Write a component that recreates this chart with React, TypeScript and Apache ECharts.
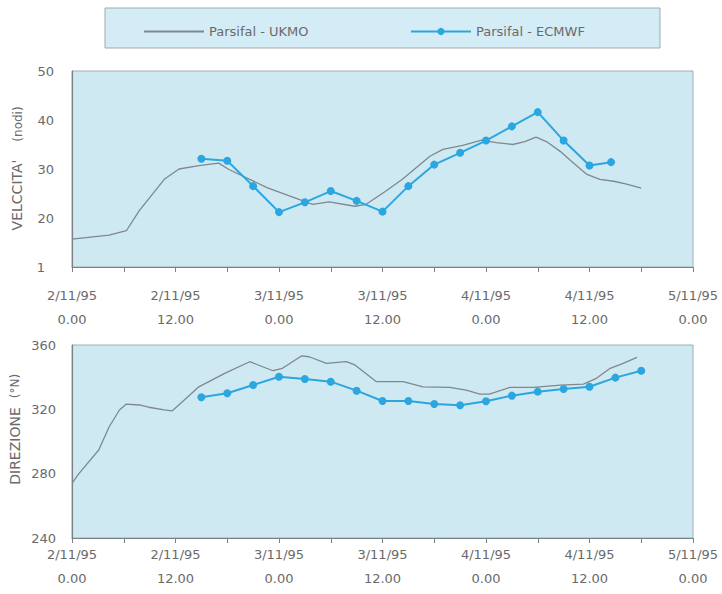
import React, { useEffect, useRef } from 'react';
import * as echarts from 'echarts';

// ---------- data ----------
const ukmoSpeedHours = [0, 4.3, 6.3, 7.8, 10.7, 12.4, 14.7, 17, 18.2, 20.6, 22.6, 25.2, 27.9, 29.8, 32.8, 34.1, 36.4, 38.3, 41.5, 43, 45.3, 47.5, 49.2, 51.1, 52.5, 53.8, 55, 56.6, 57.9, 59.7, 61.2, 62.8, 64.3, 66];
const ukmoSpeed = [15.7, 16.5, 17.4, 21.5, 27.9, 30, 30.7, 31.2, 29.9, 27.9, 26.2, 24.5, 22.8, 23.3, 22.4, 22.8, 25.5, 27.9, 32.6, 34, 34.8, 35.9, 35.4, 35, 35.6, 36.5, 35.6, 33.6, 31.6, 28.9, 27.9, 27.5, 26.9, 26.1];

const ecmwfSpeedHours = [15, 18, 21, 24, 27, 30, 33, 36, 39, 42, 45, 48, 51, 54, 57, 60, 62.5];
const ecmwfSpeed = [32.1, 31.7, 26.5, 21.2, 23.2, 25.5, 23.5, 21.3, 26.5, 30.9, 33.3, 35.8, 38.7, 41.6, 35.8, 30.7, 31.4];

const ukmoDirHours = [0, 0.8, 3.1, 4.3, 5.5, 6.3, 7.8, 8.9, 10.7, 11.6, 12.8, 14.7, 17.7, 20.6, 23.3, 24.4, 26.6, 27.5, 29.5, 31.8, 32.8, 35.3, 38.4, 40.7, 43.8, 45.7, 47.3, 48.4, 50.8, 53.5, 56.6, 59.3, 60.8, 62.4, 63.9, 65.5];
const ukmoDir = [274, 280, 294.7, 309, 319.6, 323.3, 322.7, 321.3, 319.6, 319, 324.7, 334, 342.4, 349.6, 344, 345.5, 353.2, 352.7, 348.6, 349.6, 347.6, 337.2, 337.2, 334, 333.7, 332, 329.5, 329.5, 333.7, 333.7, 335.1, 335.7, 339.3, 345.5, 348.6, 352.3];

const ecmwfDirHours = [15, 18, 21, 24, 27, 30, 33, 36, 39, 42, 45, 48, 51, 54, 57, 60, 63, 66];
const ecmwfDir = [327.5, 330, 335.1, 340.3, 338.9, 337.2, 331.6, 325.2, 325.2, 323.3, 322.5, 325, 328.5, 331, 332.6, 334, 339.7, 344];

const xTickLabels = ['2/11/95\n0.00', '2/11/95\n12.00', '3/11/95\n0.00', '3/11/95\n12.00', '4/11/95\n0.00', '4/11/95\n12.00', '5/11/95\n0.00'];
const seriesNames = ['Parsifal - UKMO', 'Parsifal - ECMWF'];

// ---------- style ----------
const FONT = 'DejaVu Sans';
const TXT = '#6a6a6a';
const PLOT_BG = '#cfe9f3';
const GRAY = '#7f888b';
const BLUE = '#2ba6de';

const pairs = (h: number[], v: number[]) => h.map((x, i) => [x, v[i]]);

function xAxisFor(gridIndex: number, margin: number) {
  return {
    type: 'value',
    gridIndex,
    min: 0,
    max: 72,
    interval: 6,
    splitLine: { show: false },
    axisLine: { lineStyle: { color: '#7a8285', width: 1.2 } },
    axisTick: { length: 5, lineStyle: { color: '#7a8285' } },
    axisLabel: {
      margin,
      showMinLabel: true,
      showMaxLabel: true,
      color: TXT,
      fontFamily: FONT,
      fontSize: 13,
      lineHeight: 24,
      formatter: (v: number) => (v % 12 === 0 ? xTickLabels[v / 12] : ''),
    },
  };
}

const legendText = { color: TXT, fontFamily: FONT, fontSize: 13 };

const option = {
  animation: false,
  backgroundColor: '#ffffff',
  textStyle: { fontFamily: FONT },
  legend: [
    {
      data: [seriesNames[0]],
      left: 138,
      top: 20,
      itemWidth: 60,
      itemHeight: 9,
      itemStyle: { color: 'rgba(0,0,0,0)', borderWidth: 0, opacity: 0 },
      textStyle: legendText,
    },
    {
      data: [seriesNames[1]],
      left: 405,
      top: 20,
      itemWidth: 60,
      itemHeight: 9,
      textStyle: legendText,
    },
  ],
  graphic: [
    {
      type: 'rect',
      z: -10,
      shape: { x: 105, y: 8, width: 555, height: 40 },
      style: { fill: '#d4ecf5', stroke: '#9fa9ad', lineWidth: 1 },
    },
    {
      type: 'text',
      x: 17,
      y: 195,
      rotation: Math.PI / 2,
      style: { text: "VELCCITA'", fill: TXT, font: `14px "${FONT}"`, textAlign: 'center', textVerticalAlign: 'middle' },
    },
    {
      type: 'text',
      x: 18,
      y: 124,
      rotation: Math.PI / 2,
      style: { text: '(nodi)', fill: TXT, font: `12px "${FONT}"`, textAlign: 'center', textVerticalAlign: 'middle' },
    },
    {
      type: 'text',
      x: 15,
      y: 446,
      rotation: Math.PI / 2,
      style: { text: 'DIREZIONE', fill: TXT, font: `14px "${FONT}"`, textAlign: 'center', textVerticalAlign: 'middle' },
    },
    {
      type: 'text',
      x: 15,
      y: 386,
      rotation: Math.PI / 2,
      style: { text: '(°N)', fill: TXT, font: `12px "${FONT}"`, textAlign: 'center', textVerticalAlign: 'middle' },
    },
  ],
  grid: [
    { left: 72, top: 71, width: 621, height: 196, show: true, backgroundColor: PLOT_BG, borderColor: '#a3adb1', borderWidth: 1 },
    { left: 72, top: 345, width: 621, height: 193, show: true, backgroundColor: PLOT_BG, borderColor: '#a3adb1', borderWidth: 1 },
  ],
  xAxis: [xAxisFor(0, 16), xAxisFor(1, 4)],
  yAxis: [
    {
      type: 'value',
      gridIndex: 0,
      min: 10,
      max: 50,
      interval: 10,
      splitLine: { show: false },
      axisLine: { show: true, lineStyle: { color: '#7a8285', width: 1.2 } },
      axisTick: { show: false },
      axisLabel: {
        margin: 18,
        color: TXT,
        fontFamily: FONT,
        fontSize: 13,
        formatter: (v: number) => (v === 10 ? '{p|1}' : String(v)),
        rich: { p: { color: TXT, fontFamily: FONT, fontSize: 13, padding: [0, 9, 0, 0] } },
      },
    },
    {
      type: 'value',
      gridIndex: 1,
      min: 240,
      max: 360,
      interval: 40,
      splitLine: { show: false },
      axisLine: { show: true, lineStyle: { color: '#7a8285', width: 1.2 } },
      axisTick: { show: false },
      axisLabel: { margin: 16, color: TXT, fontFamily: FONT, fontSize: 13 },
    },
  ],
  series: [
    {
      name: seriesNames[0],
      type: 'line',
      xAxisIndex: 0,
      yAxisIndex: 0,
      symbol: 'none',
      lineStyle: { color: GRAY, width: 1.3 },
      itemStyle: { color: GRAY },
      data: pairs(ukmoSpeedHours, ukmoSpeed),
    },
    {
      name: seriesNames[1],
      type: 'line',
      xAxisIndex: 0,
      yAxisIndex: 0,
      symbol: 'circle',
      symbolSize: 8,
      lineStyle: { color: BLUE, width: 2 },
      itemStyle: { color: BLUE },
      data: pairs(ecmwfSpeedHours, ecmwfSpeed),
    },
    {
      name: seriesNames[0],
      type: 'line',
      xAxisIndex: 1,
      yAxisIndex: 1,
      symbol: 'none',
      lineStyle: { color: GRAY, width: 1.3 },
      itemStyle: { color: GRAY },
      data: pairs(ukmoDirHours, ukmoDir),
    },
    {
      name: seriesNames[1],
      type: 'line',
      xAxisIndex: 1,
      yAxisIndex: 1,
      symbol: 'circle',
      symbolSize: 8,
      lineStyle: { color: BLUE, width: 2 },
      itemStyle: { color: BLUE },
      data: pairs(ecmwfDirHours, ecmwfDir),
    },
  ],
};

export default function App() {
  const ref = useRef<HTMLDivElement>(null);
  useEffect(() => {
    document.body.style.margin = '0';
    const chart = echarts.init(ref.current as HTMLDivElement, null, { renderer: 'svg' });
    chart.setOption(option as any);
    return () => chart.dispose();
  }, []);
  return <div ref={ref} style={{ width: 722, height: 594 }} />;
}
